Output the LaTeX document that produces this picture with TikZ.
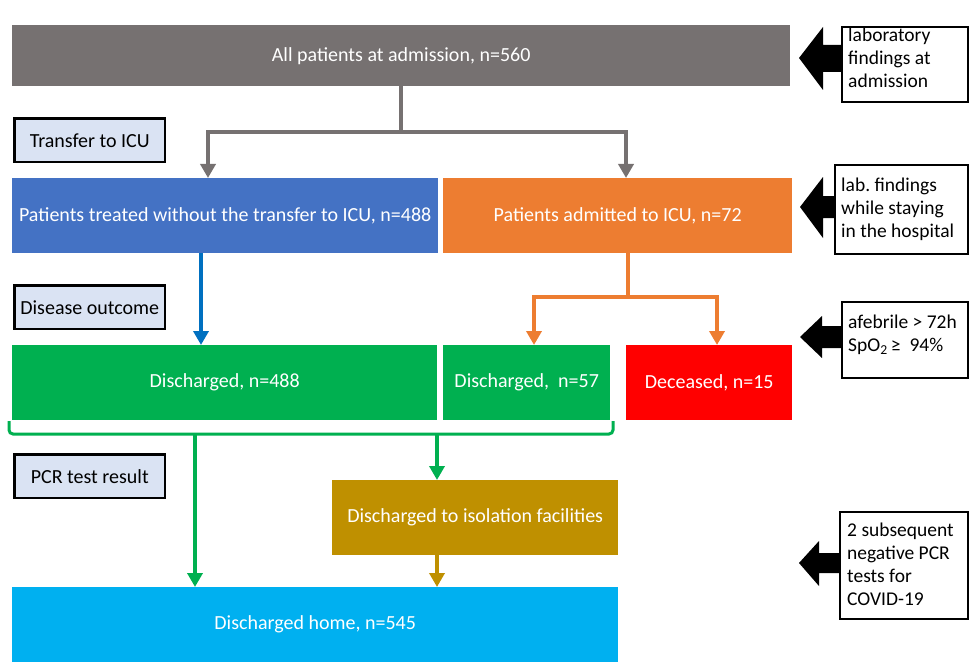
\documentclass[tikz,border=0pt]{standalone}
\usepackage{fontspec}
\setmainfont{Carlito}
\frenchspacing
\usetikzlibrary{arrows.meta}
\definecolor{cgray}{HTML}{767171}
\definecolor{cblue}{HTML}{4472C4}
\definecolor{cblueline}{HTML}{0070C0}
\definecolor{corange}{HTML}{ED7D31}
\definecolor{cgreen}{HTML}{00B050}
\definecolor{cred}{HTML}{FF0000}
\definecolor{cgold}{HTML}{BF9000}
\definecolor{ccyan}{HTML}{00B0F0}
\definecolor{clabel}{HTML}{DAE3F3}
\tikzset{
  flowbox/.style={draw=none, text=white, inner sep=0pt, anchor=north west,
    font=\fontsize{20}{24}\selectfont},
  labelbox/.style={draw=black, line width=2.5pt, fill=clabel, text=black, inner sep=0pt,
    anchor=north west, minimum width=150.5pt, minimum height=43.5pt,
    font=\fontsize{20}{24}\selectfont},
  notebox/.style={draw=black, line width=2pt, fill=white, inner sep=0pt, anchor=north west},
  notetext/.style={text=black, inner sep=0pt, anchor=base west, align=left,
    font=\fontsize{19.5}{22.8}\selectfont},
  conn/.style={line width=#1, -{Triangle[width=15pt,length=14pt]}},
  conn/.default=4pt,
  fatarrow/.style={fill=black, draw=none}
}
\begin{document}
\begin{tikzpicture}[x=1pt,y=-1pt]
\useasboundingbox (0,0) rectangle (973,671);
% main boxes
\node[flowbox, fill=cgray, minimum width=778pt, minimum height=61pt] (all) at (12,25) {All patients at admission, n=560};
\node[flowbox, fill=cblue, minimum width=426pt, minimum height=75pt] (blue) at (12,178) {Patients treated without the transfer to ICU, n=488};
\node[flowbox, fill=corange, minimum width=349pt, minimum height=75pt] (orange) at (443,178) {Patients admitted to ICU, n=72};
\node[flowbox, fill=cgreen, minimum width=425pt, minimum height=75pt] (dis1) at (12,345) {Discharged, n=488};
\node[flowbox, fill=cgreen, minimum width=167pt, minimum height=75pt] (dis2) at (443,345) {Discharged,\ \ n=57};
\node[flowbox, fill=cred, minimum width=166pt, minimum height=75pt] (dec) at (626,345) {Deceased, n=15};
\node[flowbox, fill=cgold, minimum width=286pt, minimum height=75pt] (iso) at (332,480) {Discharged to isolation facilities};
\node[flowbox, fill=ccyan, minimum width=606pt, minimum height=75pt] (home) at (12,587) {Discharged home, n=545};
% label boxes
\node[labelbox] (l1) at (13.25,117.25) {Transfer to ICU};
\node[labelbox] (l2) at (13.25,284.25) {Disease outcome};
\node[labelbox] (l3) at (13.25,453.25) {PCR test result};
% note boxes (text anchored at the baseline of its last line)
\node[notebox, minimum width=126pt, minimum height=75pt] (n1) at (841,26) {};
\node[notetext] (n1t) at (848,87.5) {laboratory\\findings at\\admission};
\node[notebox, minimum width=133pt, minimum height=89pt] (n2) at (834,164) {};
\node[notetext] (n2t) at (841,237) {lab. findings\\while staying\\in the hospital};
\node[notebox, minimum width=126pt, minimum height=76pt] (n3) at (841,301) {};
\node[notetext] (n3t) at (848,351) {afebrile > 72h\\SpO\textsubscript{2}\,≥\ \ 94\%};
\node[notebox, minimum width=128pt, minimum height=107pt] (n4) at (839,511) {};
\node[notetext] (n4t) at (847,605) {2 subsequent\\negative PCR\\tests for\\COVID-19};
% fat arrows
\fill[fatarrow] (n1.west |- 0,45) -- (823,45) -- (823,27) -- (799,58) -- (823,90) -- (823,72) -- (n1.west |- 0,72) -- cycle;
\fill[fatarrow] (n2.west |- 0,196) -- (823,196) -- (823,177) -- (800,207) -- (823,238) -- (823,218) -- (n2.west |- 0,218) -- cycle;
\fill[fatarrow] (n3.west |- 0,326) -- (822,326) -- (822,316) -- (800,337) -- (822,358) -- (822,348) -- (n3.west |- 0,348) -- cycle;
\fill[fatarrow] (n4.west |- 0,553) -- (819,553) -- (819,541) -- (799,563) -- (819,586) -- (819,573) -- (n4.west |- 0,573) -- cycle;
% gray connectors
\coordinate (g1) at (208,132);
\coordinate (g2) at (626,132);
\draw[cgray, conn=4.5pt] (all.south) -- (all.south |- g1) -| (g1 |- blue.north);
\draw[cgray, conn=4.5pt] (all.south |- g1) -| (g2 |- orange.north);
% blue connector
\coordinate (b0) at (201,253);
\draw[cblueline, conn] (b0) -- (b0 |- dis1.north);
% orange connectors
\coordinate (o0) at (628,297);
\coordinate (o1) at (534,297);
\coordinate (o2) at (717,297);
\draw[corange, conn] (o0 |- orange.south) -- (o0) -| (o1 |- dis2.north);
\draw[corange, conn] (o0) -| (o2 |- dec.north);
% bracket
\coordinate (k1) at (195,434);
\coordinate (k2) at (437,434);
\draw[cgreen, line width=3pt, rounded corners=4pt] (9,421) -- (9,434) -- (613,434) -- (613,421);
\draw[cgreen, conn] (k1) -- (k1 |- home.north);
\draw[cgreen, conn] (k2) -- (k2 |- iso.north);
\draw[cgold, conn] (k2 |- iso.south) -- (k2 |- home.north);
\end{tikzpicture}
\end{document}
